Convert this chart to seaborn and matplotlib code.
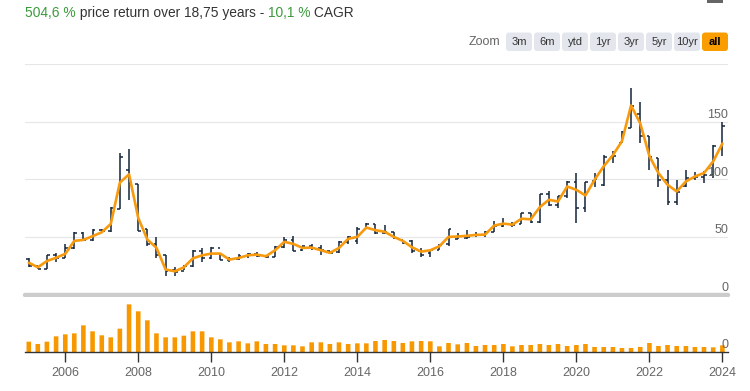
import matplotlib
matplotlib.use("Agg")
import matplotlib.pyplot as plt
from matplotlib.patches import FancyBboxPatch, Rectangle
import numpy as np
import pandas as pd
import seaborn as sns

# quarterly data, Q1 2005 .. Q1 2024
dates = pd.date_range("2005-01-01", periods=77, freq="QS")

line_price = [27.6, 23.6, 29.0, 31.9, 35.3, 46.5, 47.4, 50.6, 54.0, 61.2,
              97.1, 104.3, 66.4, 47.7, 40.5, 21.7, 20.1, 23.6, 31.4, 34.0,
              35.5, 35.5, 30.3, 31.7, 34.0, 34.6, 33.2, 38.4, 45.7, 43.9,
              40.4, 40.7, 38.4, 36.1, 40.4, 48.3, 50.0, 58.1, 55.8, 54.4,
              50.0, 46.5, 41.0, 37.2, 38.4, 41.9, 50.0, 50.3, 50.9, 51.7,
              52.0, 59.8, 61.5, 60.6, 65.8, 65.2, 75.9, 82.2, 80.7, 93.7,
              90.8, 85.9, 99.5, 111.3, 121.0, 133.0, 164.0, 148.5, 120.0, 105.4,
              95.2, 89.4, 98.1, 102.4, 105.4, 115.5, 131.0]

ohlc_open = [31.0, 24.7, 22.4, 34.5, 31.9, 40.5, 53.4, 47.7, 56.3, 54.9,
             74.0, 108.0, 96.0, 56.9, 43.4, 34.5, 21.0, 20.0, 25.0, 37.5,
             31.7, 40.1, 30.3, 30.9, 33.2, 35.2, 33.2, 32.6, 41.0, 47.7,
             38.5, 41.9, 40.4, 37.5, 36.5, 45.7, 46.0, 56.9, 61.6, 53.5,
             54.4, 47.7, 46.5, 37.5, 36.1, 39.0, 44.0, 48.3, 49.1, 51.7,
             52.0, 54.0, 59.1, 60.6, 61.5, 70.7, 62.6, 87.1, 77.9, 85.1,
             97.7, 75.0, 98.6, 95.0, 119.3, 131.6, 144.7, 156.4, 137.4, 118.4,
             99.4, 80.4, 94.5, 100.9, 102.3, 103.8, 129.0]

ohlc_high = [31.6, 24.7, 34.5, 35.6, 43.4, 54.0, 54.0, 56.9, 56.9, 75.9,
             122.4, 126.2, 96.0, 56.9, 50.0, 34.6, 23.6, 25.9, 38.4, 40.4,
             41.0, 36.1, 32.6, 35.5, 36.1, 37.0, 34.6, 41.9, 50.0, 50.6,
             42.5, 43.5, 43.3, 37.5, 46.2, 50.6, 58.7, 62.2, 61.6, 60.7,
             54.4, 47.7, 47.1, 40.4, 39.0, 44.2, 57.0, 53.0, 56.3, 54.0,
             54.9, 63.8, 66.4, 63.2, 70.7, 70.7, 87.1, 89.4, 85.1, 98.9,
             105.2, 98.0, 105.7, 121.0, 124.3, 141.8, 179.5, 167.3, 137.4, 118.4,
             108.2, 99.4, 108.2, 106.7, 107.0, 129.5, 150.0]

ohlc_low = [24.1, 21.8, 22.4, 28.2, 31.9, 39.1, 46.3, 46.3, 54.0, 54.0,
            74.1, 81.6, 54.9, 41.9, 31.9, 16.3, 16.4, 21.0, 23.9, 28.5,
            31.2, 30.3, 28.5, 29.7, 31.4, 32.6, 32.0, 32.6, 40.1, 38.1,
            38.1, 38.5, 34.0, 35.2, 36.1, 44.2, 43.9, 56.4, 52.6, 52.6,
            48.3, 43.9, 36.1, 32.6, 32.6, 39.0, 42.5, 48.3, 48.3, 50.0,
            50.0, 54.0, 58.6, 58.6, 61.5, 62.4, 62.1, 76.4, 75.0, 83.6,
            62.1, 71.5, 93.7, 94.5, 114.0, 131.6, 144.7, 131.6, 108.2, 93.6,
            77.5, 77.5, 93.6, 99.4, 97.0, 101.0, 120.0]

ohlc_close = [25.0, 22.4, 34.5, 31.9, 40.5, 53.4, 47.7, 56.3, 54.9, 75.0,
              119.0, 96.6, 54.9, 43.4, 34.5, 20.5, 19.9, 25.0, 37.5, 31.7,
              40.1, 30.3, 30.9, 33.2, 35.2, 33.2, 32.6, 41.0, 47.7, 38.1,
              41.9, 40.4, 38.4, 36.1, 45.7, 50.0, 56.4, 61.6, 53.5, 54.4,
              48.8, 44.8, 37.5, 34.6, 38.4, 43.3, 56.4, 50.6, 50.0, 52.0,
              54.0, 59.8, 61.5, 60.6, 70.7, 62.6, 87.1, 77.9, 85.1, 97.7,
              75.0, 98.0, 100.0, 119.3, 120.5, 141.0, 163.7, 137.4, 119.3, 99.4,
              80.4, 89.2, 100.9, 102.3, 103.8, 128.7, 146.0]

volume = [3.1, 2.4, 3.1, 4.7, 5.3, 5.6, 8.0, 6.2, 5.0, 4.4,
          7.0, 14.3, 12.2, 9.5, 5.6, 4.4, 4.4, 4.9, 6.2, 6.2,
          4.4, 3.8, 2.9, 3.2, 2.6, 3.2, 2.4, 2.4, 2.0, 2.0,
          1.7, 2.9, 2.9, 2.4, 2.9, 2.4, 2.6, 2.6, 3.3, 3.6,
          3.3, 2.7, 3.2, 3.3, 3.2, 1.7, 2.7, 2.3, 2.7, 1.8,
          2.1, 2.1, 2.4, 1.7, 2.1, 2.1, 2.4, 2.1, 2.4, 1.8,
          2.1, 2.4, 1.5, 1.5, 1.5, 1.2, 1.2, 1.5, 2.7, 1.8,
          2.1, 1.8, 1.8, 1.5, 1.5, 1.4, 2.0]

year_ticks = [2006, 2008, 2010, 2012, 2014, 2016, 2018, 2020, 2022, 2024]
price_ticks = [0, 50, 100, 150]
grid_levels = [50, 100, 150, 200]
zoom_buttons = ["3m", "6m", "ytd", "1yr", "3yr", "5yr", "10yr", "all"]
title_parts = ["504,6 %", " price return over 18,75 years - ", "10,1 %", " CAGR"]

sns.set_theme(style="white")
plt.rcParams["font.family"] = ["Liberation Sans", "DejaVu Sans"]

ORANGE = "#f79a0e"
BAR_ORANGE = "#f89800"
OHLC = "#13243a"
GREEN = "#3a9a3a"
DARK = "#333333"
GRAY = "#666666"

W, H = 750, 391
fig = plt.figure(figsize=(W / 100, H / 100), dpi=100)


def rect(x0, y_top, x1, y_bot):
    return [x0 / W, 1 - y_bot / H, (x1 - x0) / W, (y_bot - y_top) / H]


xlim = (pd.Timestamp("2004-11-24"), pd.Timestamp("2024-02-26"))
ax = fig.add_axes(rect(25, 64, 728, 294.5))
axv = fig.add_axes(rect(25, 297, 728, 352))

# price pane
for g in grid_levels:
    ax.axhline(g, color="#e6e6e6", lw=0.8, zorder=0)

tick = pd.Timedelta(days=28)
ax.vlines(dates, ohlc_low, ohlc_high, color=OHLC, lw=1.1, zorder=2)
ax.hlines(ohlc_open, dates - tick, dates, color=OHLC, lw=1.1, zorder=2)
ax.hlines(ohlc_close, dates, dates + tick, color=OHLC, lw=1.1, zorder=2)
sns.lineplot(x=dates, y=line_price, ax=ax, color=ORANGE, lw=1.9, zorder=3)

ax.axhline(0, color="#cccccc", lw=3.2, zorder=1, clip_on=False)
ax.set_ylim(0, 200)
ax.set_xlim(*xlim)
for v in price_ticks:
    ax.annotate(str(v), xy=(1, v), xycoords=ax.get_yaxis_transform(),
                xytext=(0, 4.8), textcoords="offset points",
                ha="right", va="center", fontsize=9, color=GRAY)
ax.set_xticks([])
ax.set_yticks([])
ax.set_xlabel("")
ax.set_ylabel("")
for s in ax.spines.values():
    s.set_visible(False)

# volume pane
axv.bar(dates, volume, width=46, color=BAR_ORANGE, lw=0, snap=False, zorder=2)
axv.set_xlim(*xlim)
axv.set_ylim(0, 16.5)
axv.set_yticks([])
for s in ["top", "left", "right"]:
    axv.spines[s].set_visible(False)
axv.spines["bottom"].set_color(DARK)
axv.spines["bottom"].set_linewidth(1)
axv.set_xticks([pd.Timestamp(f"{y}-01-01") for y in year_ticks])
axv.set_xticklabels([str(y) for y in year_ticks])
axv.tick_params(axis="x", length=7, width=1, color=DARK, direction="out",
                labelsize=9, labelcolor=GRAY, pad=4, bottom=True)
axv.annotate("0", xy=(1, 0), xycoords=axv.get_yaxis_transform(),
             xytext=(0, 5), textcoords="offset points",
             ha="right", va="center", fontsize=9, color=GRAY)

# overlay in pixel units for header elements
ov = fig.add_axes([0, 0, 1, 1], zorder=-1)
ov.set_xlim(0, W)
ov.set_ylim(H, 0)
ov.axis("off")

colors = [GREEN, DARK, GREEN, DARK]
prev = ov.text(25, 13, title_parts[0], color=colors[0], fontsize=9.9,
               ha="left", va="center")
for part, c in zip(title_parts[1:], colors[1:]):
    prev = ov.annotate(part, xy=(1, 0), xycoords=prev, ha="left", va="bottom",
                       color=c, fontsize=9.9)

ov.add_patch(Rectangle((707, 0), 16, 3, color=GRAY, lw=0))

ov.text(500, 42, "Zoom", ha="right", va="center", fontsize=9, color=GRAY)
for i, lab in enumerate(zoom_buttons):
    x0 = 506 + 28 * i
    active = lab == "all"
    ov.add_patch(FancyBboxPatch((x0, 32.5), 26, 18.5,
                                boxstyle="round,pad=0,rounding_size=3",
                                fc="#f99d00" if active else "#e4e6ee", ec="none"))
    ov.text(x0 + 13, 42, lab, ha="center", va="center", fontsize=8,
            color="black" if active else DARK,
            fontweight="bold" if active else "normal")

fig.savefig("out.png", dpi=100)
